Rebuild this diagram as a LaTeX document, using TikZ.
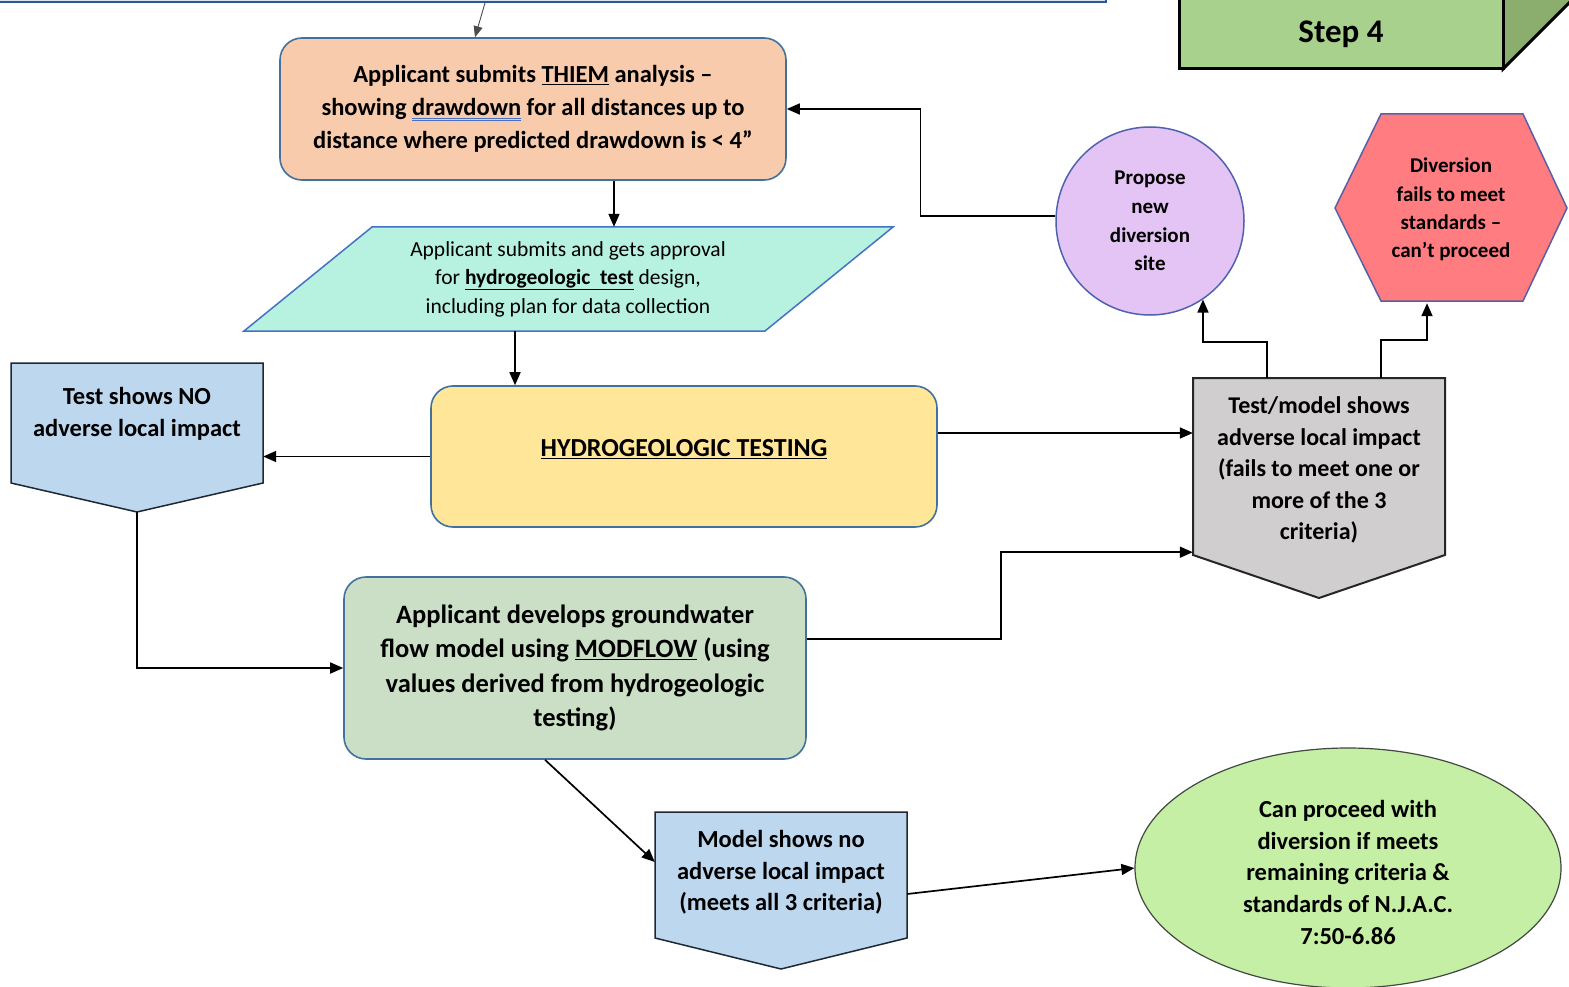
\documentclass[tikz,border=0pt]{standalone}
\usepackage{fontspec}
\setmainfont{Carlito}
\usetikzlibrary{arrows.meta,shapes.geometric,calc}
\definecolor{topfill}{HTML}{DAE3F3}
\definecolor{topbord}{HTML}{2F5597}
\definecolor{boxbord}{HTML}{41719C}
\definecolor{peach}{HTML}{F8CBAD}
\definecolor{aqua}{HTML}{B7F2E0}
\definecolor{aquabord}{HTML}{4472C4}
\definecolor{sand}{HTML}{FFE699}
\definecolor{paleblue}{HTML}{BDD7EE}
\definecolor{sage}{HTML}{CADFC6}
\definecolor{greyfill}{HTML}{D0CECE}
\definecolor{lavender}{HTML}{E4C4F4}
\definecolor{circbord}{HTML}{4F62B0}
\definecolor{salmon}{HTML}{FF7C80}
\definecolor{hexbord}{HTML}{5B5EA6}
\definecolor{stepfill}{HTML}{A9D18E}
\definecolor{stepside}{HTML}{8BAE6E}
\definecolor{lime}{HTML}{C6EFA6}
\definecolor{limebord}{HTML}{404840}
\definecolor{ulblue}{HTML}{4A6FC7}
\definecolor{darkbord}{HTML}{1E2833}
\newcommand{\dblul}[1]{\begingroup\setbox0\hbox{#1}\rlap{\color{ulblue}\rule[-3pt]{\wd0}{1pt}}\rlap{\color{ulblue}\rule[-5.5pt]{\wd0}{1pt}}\box0\endgroup}
\begin{document}
\begin{tikzpicture}[x=1pt,y=-1pt,
  conn/.style={line width=1.7pt,-{Triangle[length=13pt,width=11pt]}},
  fine/.style={line width=0.9pt,draw=black!70,-{Triangle[length=11pt,width=9pt]}},
  rbox/.style={rectangle,rounded corners=22pt,line width=1.6pt,draw=boxbord,align=center,inner sep=0pt},
  body/.style={rectangle,inner sep=0pt,align=center},
  shapeline/.style={line width=1.5pt}]
\clip (0,0) rectangle (1569,987);
\fill[white] (0,0) rectangle (1569,987);

% ---- shapes drawn directly ----
\filldraw[fill=aqua,draw=aquabord,shapeline] (372,227)--(893,227)--(765,331)--(244,331)--cycle;
\filldraw[fill=paleblue,draw=darkbord,shapeline] (11,363)--(263,363)--(263,483)--(137,512)--(11,483)--cycle;
\filldraw[fill=greyfill,draw=black!85,line width=2pt] (1193,378)--(1445,378)--(1445,555)--(1319,598)--(1193,555)--cycle;
\filldraw[fill=paleblue,draw=darkbord,shapeline] (655,812)--(907,812)--(907,938)--(781,969)--(655,938)--cycle;
\filldraw[fill=salmon,draw=hexbord,shapeline] (1381,114)--(1523,114)--(1567,208)--(1523,301)--(1381,301)--(1335,208)--cycle;
\filldraw[fill=stepside,draw=black,line width=3pt] (1503,69)--(1580,-8)--(1580,-30)--(1503,-30)--cycle;
\filldraw[fill=stepfill,draw=black,line width=3pt] (1179,-20) rectangle (1503,69);
\coordinate (lptip) at (137,512);
\coordinate (k7) at (1001,0);

% ---- nodes ----
\node[draw=topbord,fill=topfill,line width=2pt,minimum width=1300,minimum height=60,anchor=south east] (top) at (1107,3) {};

\node[rbox,fill=peach,minimum width=506,minimum height=142,font=\fontsize{24.5}{33}\selectfont\bfseries] (thiem) at (533,109)
  {Applicant submits \underline{THIEM} analysis --\\showing \dblul{drawdown} for all distances up to\\distance where predicted drawdown is < 4”};

\node[body,minimum width=400,minimum height=104,font=\fontsize{21.5}{28.5}\selectfont] (para) at (568,279)
  {Applicant submits and gets approval\\for \underline{\textbf{hydrogeologic\ \ test}} design,\\including plan for data collection};

\node[rbox,fill=sand,minimum width=506,minimum height=141,text height=18pt,text depth=18pt,font=\fontsize{26}{32}\selectfont\bfseries] (ht) at (684,456.5)
  {\underline{HYDROGEOLOGIC TESTING}};

\node[body,minimum width=252,minimum height=100,font=\fontsize{24.5}{32}\selectfont\bfseries] (lp) at (137,414)
  {Test shows NO\\adverse local impact};

\node[rbox,fill=sage,minimum width=462,minimum height=182,font=\fontsize{26.5}{34.5}\selectfont\bfseries] (model) at (575,668)
  {Applicant develops groundwater\\flow model using \underline{MODFLOW} (using\\values derived from hydrogeologic\\testing)};

\node[body,minimum width=252,minimum height=184,font=\fontsize{24}{31.5}\selectfont\bfseries] (gray) at (1319,470)
  {Test/model shows\\adverse local impact\\(fails to meet one or\\more of the 3\\criteria)};

\node[circle,draw=circbord,fill=lavender,line width=1.5pt,minimum size=188,inner sep=0pt,align=center,font=\fontsize{21}{28.7}\selectfont\bfseries] (circ) at (1150,221)
  {Propose\\new\\diversion\\site};

\node[body,minimum width=232,minimum height=187,font=\fontsize{21}{28.3}\selectfont\bfseries] (hex) at (1451,209.5)
  {Diversion\\fails to meet\\standards --\\can’t proceed};

\node[body,font=\fontsize{33}{40}\selectfont\bfseries] (step) at (1341,34)
  {Step 4};

\node[body,minimum width=252,minimum height=121,font=\fontsize{24.5}{31.5}\selectfont\bfseries] (bp) at (781,872.5)
  {Model shows no\\adverse local impact\\(meets all 3 criteria)};

\node[ellipse,draw=limebord,fill=lime,line width=1.2pt,minimum width=426,minimum height=240,inner sep=0pt,align=center,font=\fontsize{24.5}{31.7}\selectfont\bfseries] (ell) at (1348,868)
  {\rule{0pt}{26pt}Can proceed with\\diversion if meets\\remaining criteria \&\\standards of N.J.A.C.\\7:50-6.86};

% ---- connectors ----
\coordinate (g7) at ($(gray.south west)+(0,-10)$);
\draw[fine] ($(top.south east)+(-622,0)$) -- ($(thiem.north)+(-58,0)$);
\draw[conn] ($(thiem.south)+(81,0)$) -- ($(para.north)+(46,0)$);
\draw[conn] ($(para.south)+(-53,0)$) -- ($(ht.north)+(-169,0)$);
\draw[conn] (ht.west) -- (lp.east |- ht.west);
\draw[conn] (lptip) -- (lptip |- model.west) -- (model.west);
\draw[conn] ($(ht.east)+(0,-23.5)$) coordinate (h6) -- (h6 -| gray.west);
\draw[conn] ($(model.east)+(0,-29)$) coordinate (m7) -- (m7 -| k7) -- (g7 -| k7) -- (g7);
\draw[conn] ($(gray.north)+(-52,0)$) -- ++(0,-36) -| (circ.-56);
\draw[conn] ($(gray.north)+(62,0)$) -- ++(0,-38) -| ($(hex.south)+(-24,0)$);
\draw[conn] (circ.177) -- ++(-135,0) |- (thiem.east);
\draw[conn] ($(model.south)+(-30,0)$) -- ($(bp.west)+(0,-10.5)$);
\draw[conn] ($(bp.east)+(0,21.5)$) -- (ell.west);
\end{tikzpicture}
\end{document}
